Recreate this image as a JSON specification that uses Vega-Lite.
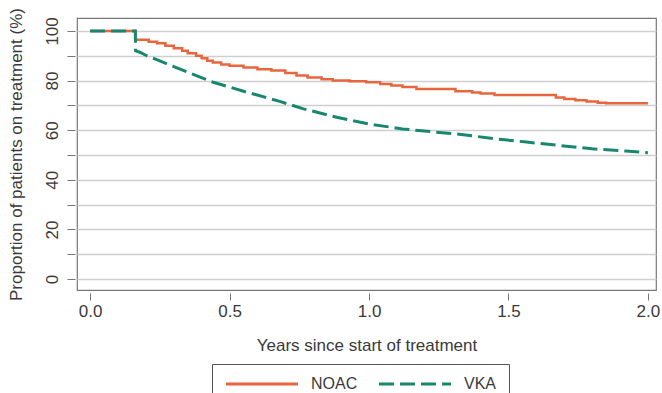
{
  "$schema": "https://vega.github.io/schema/vega-lite/v6.json",
  "width": 579,
  "height": 272,
  "autosize": "none",
  "padding": {"left": 77, "top": 18, "right": 6, "bottom": 103},
  "background": "white",
  "config": {
    "font": "Liberation Sans",
    "view": {"stroke": "#777777", "strokeWidth": 1.2},
    "axis": {
      "labelFont": "Liberation Sans",
      "titleFont": "Liberation Sans",
      "labelColor": "#3a3a3a",
      "titleColor": "#3a3a3a",
      "labelFontSize": 17,
      "titleFontSize": 17,
      "titleFontWeight": "normal",
      "tickColor": "#777777",
      "domain": false
    },
    "legend": {"labelFont": "Liberation Sans"}
  },
  "datasets": {
    "curves": [
      {"years": 0, "pct": 100, "group": "NOAC"},
      {"years": 0.163, "pct": 96.4, "group": "NOAC"},
      {"years": 0.21, "pct": 95.6, "group": "NOAC"},
      {"years": 0.24, "pct": 95, "group": "NOAC"},
      {"years": 0.27, "pct": 94, "group": "NOAC"},
      {"years": 0.3, "pct": 93, "group": "NOAC"},
      {"years": 0.33, "pct": 92, "group": "NOAC"},
      {"years": 0.35, "pct": 91, "group": "NOAC"},
      {"years": 0.38, "pct": 90, "group": "NOAC"},
      {"years": 0.4, "pct": 89, "group": "NOAC"},
      {"years": 0.42, "pct": 88, "group": "NOAC"},
      {"years": 0.44, "pct": 87.3, "group": "NOAC"},
      {"years": 0.47, "pct": 86.5, "group": "NOAC"},
      {"years": 0.5, "pct": 86, "group": "NOAC"},
      {"years": 0.55, "pct": 85.3, "group": "NOAC"},
      {"years": 0.6, "pct": 84.5, "group": "NOAC"},
      {"years": 0.65, "pct": 84, "group": "NOAC"},
      {"years": 0.7, "pct": 83, "group": "NOAC"},
      {"years": 0.74, "pct": 82, "group": "NOAC"},
      {"years": 0.78, "pct": 81.2, "group": "NOAC"},
      {"years": 0.83, "pct": 80.5, "group": "NOAC"},
      {"years": 0.87, "pct": 80, "group": "NOAC"},
      {"years": 0.93, "pct": 79.7, "group": "NOAC"},
      {"years": 0.99, "pct": 79.3, "group": "NOAC"},
      {"years": 1.04, "pct": 78.6, "group": "NOAC"},
      {"years": 1.08, "pct": 78, "group": "NOAC"},
      {"years": 1.12, "pct": 77.4, "group": "NOAC"},
      {"years": 1.17, "pct": 76.6, "group": "NOAC"},
      {"years": 1.31, "pct": 75.7, "group": "NOAC"},
      {"years": 1.37, "pct": 75.2, "group": "NOAC"},
      {"years": 1.4, "pct": 74.8, "group": "NOAC"},
      {"years": 1.45, "pct": 74.2, "group": "NOAC"},
      {"years": 1.67, "pct": 73.2, "group": "NOAC"},
      {"years": 1.7, "pct": 72.6, "group": "NOAC"},
      {"years": 1.74, "pct": 72.1, "group": "NOAC"},
      {"years": 1.78, "pct": 71.6, "group": "NOAC"},
      {"years": 1.82, "pct": 71.1, "group": "NOAC"},
      {"years": 1.85, "pct": 70.8, "group": "NOAC"},
      {"years": 2.0, "pct": 70.8, "group": "NOAC"},
      {"years": 0, "pct": 100, "group": "VKA"},
      {"years": 0.162, "pct": 100, "group": "VKA"},
      {"years": 0.163, "pct": 92, "group": "VKA"},
      {"years": 0.18, "pct": 91.3, "group": "VKA"},
      {"years": 0.203, "pct": 90, "group": "VKA"},
      {"years": 0.263, "pct": 87.3, "group": "VKA"},
      {"years": 0.323, "pct": 84.6, "group": "VKA"},
      {"years": 0.383, "pct": 81.9, "group": "VKA"},
      {"years": 0.442, "pct": 79.3, "group": "VKA"},
      {"years": 0.502, "pct": 77.3, "group": "VKA"},
      {"years": 0.562, "pct": 75.3, "group": "VKA"},
      {"years": 0.62, "pct": 73.5, "group": "VKA"},
      {"years": 0.68, "pct": 71.6, "group": "VKA"},
      {"years": 0.765, "pct": 68.6, "group": "VKA"},
      {"years": 0.884, "pct": 65.2, "group": "VKA"},
      {"years": 1.0, "pct": 62.5, "group": "VKA"},
      {"years": 1.12, "pct": 60.5, "group": "VKA"},
      {"years": 1.24, "pct": 59.2, "group": "VKA"},
      {"years": 1.33, "pct": 58.3, "group": "VKA"},
      {"years": 1.445, "pct": 56.6, "group": "VKA"},
      {"years": 1.565, "pct": 55.2, "group": "VKA"},
      {"years": 1.685, "pct": 53.8, "group": "VKA"},
      {"years": 1.8, "pct": 52.5, "group": "VKA"},
      {"years": 1.92, "pct": 51.6, "group": "VKA"},
      {"years": 2.0, "pct": 50.9, "group": "VKA"}
    ]
  },
  "data": {"name": "curves"},
  "encoding": {
    "x": {
      "field": "years",
      "type": "quantitative",
      "scale": {"domain": [-0.047, 2.029], "nice": false, "zero": false},
      "axis": {
        "title": "Years since start of treatment",
        "values": [0, 0.5, 1, 1.5, 2],
        "format": ".1f",
        "grid": false,
        "offset": 3,
        "tickSize": 7,
        "labelPadding": 3,
        "titlePadding": 18,
        "labelFlush": false
      }
    },
    "y": {
      "field": "pct",
      "type": "quantitative",
      "scale": {"domain": [-4.4, 105.2], "nice": false, "zero": false},
      "axis": {
        "title": "Proportion of patients on treatment (%)",
        "values": [0, 10, 20, 30, 40, 50, 60, 70, 80, 90, 100],
        "labelExpr": "datum.value % 20 == 0 ? datum.label : ''",
        "grid": true,
        "gridColor": "#cfcfcf",
        "gridWidth": 1.3,
        "offset": 2,
        "tickSize": 8,
        "labelAngle": -90,
        "labelAlign": "center",
        "labelBaseline": "bottom",
        "labelPadding": 6,
        "titlePadding": 18,
        "labelFlush": false
      }
    },
    "color": {
      "field": "group",
      "type": "nominal",
      "scale": {"domain": ["NOAC", "VKA"], "range": ["#e8653d", "#18876f"]},
      "legend": {
        "title": null,
        "orient": "none",
        "direction": "horizontal",
        "legendX": 135,
        "legendY": 346,
        "symbolType": "M-1,0H11",
        "symbolSize": 144,
        "symbolStrokeWidth": 3,
        "labelFontSize": 16,
        "labelColor": "#3a3a3a",
        "labelOffset": 71,
        "columnPadding": 15,
        "gridAlign": "all",
        "padding": 12,
        "strokeColor": "#555555",
        "fillColor": "white"
      }
    },
    "strokeDash": {
      "field": "group",
      "type": "nominal",
      "scale": {"domain": ["NOAC", "VKA"], "range": [[1, 0], [15, 6]]},
      "legend": null
    }
  },
  "layer": [
    {
      "transform": [{"filter": "datum.group == 'NOAC'"}],
      "mark": {"type": "line", "interpolate": "step-after", "strokeWidth": 2.5}
    },
    {
      "transform": [{"filter": "datum.group == 'VKA'"}],
      "mark": {"type": "line", "interpolate": "linear", "strokeWidth": 3}
    }
  ]
}
